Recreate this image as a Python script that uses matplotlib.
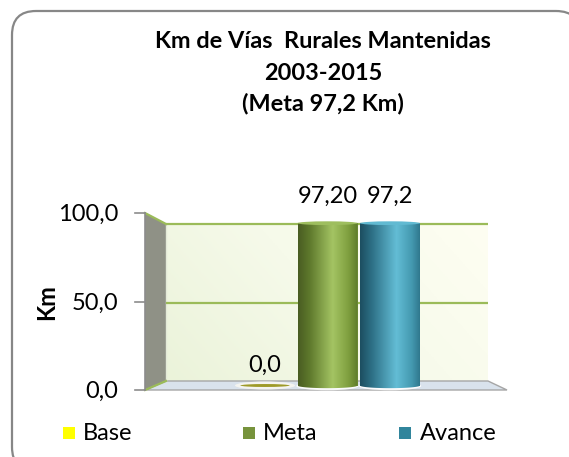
import matplotlib
matplotlib.use("Agg")
import matplotlib.pyplot as plt
import numpy as np
from matplotlib.patches import Polygon, Rectangle, Ellipse, FancyBboxPatch
from matplotlib.colors import LinearSegmentedColormap

# ---------------- data ----------------
series = ["Base", "Meta", "Avance"]
values = [0.0, 97.2, 97.2]
value_labels = ["0,0", "97,20", "97,2"]
yticks = [0, 50, 100]
ytick_labels = ["0,0", "50,0", "100,0"]
title_lines = ["Km de Vías  Rurales Mantenidas", "2003-2015", "(Meta 97,2 Km)"]
ylabel = "Km"
legend_colors = ["#FFFF00", "#77933C", "#31859C"]

# ---------------- style ----------------
W, H = 569, 457
FONT = "Lato"
plt.rcParams["font.family"] = [FONT, "DejaVu Sans"]
FS = 17
grid_col = "#9BBB59"

fig = plt.figure(figsize=(W / 100, H / 100), dpi=100)
deco = fig.add_axes([0, 0, 1, 1])
deco.set_xlim(0, W)
deco.set_ylim(H, 0)
deco.axis("off")

# 3D-ish geometry (t = 0 back plane, t = 1 front plane)
def ypx(v, t):
    return (381 + 9 * t) - v * (1.57 + 0.20 * t)

def xl(t):
    return 166 - 21 * t

def xr(t):
    return 488 + 19 * t

# outer rounded border
deco.add_patch(FancyBboxPatch((12, 11), 568, 460,
                              boxstyle="round,pad=0,rounding_size=24",
                              fc="white", ec="#878787", lw=1.6, zorder=0))

vmax = max(yticks)
# back wall gradient
grad = np.linspace(0, 1, 256)[None, :] * np.ones((64, 1))
grad = grad * 0.7 + np.linspace(0, 0.3, 64)[::-1, None]
wall_cmap = LinearSegmentedColormap.from_list("wall", ["#EBF3DA", "#F6FAEA", "#FEFEF2"])
deco.imshow(grad, cmap=wall_cmap, extent=[xl(0), xr(0), ypx(0, 0), ypx(vmax, 0)],
            aspect="auto", zorder=1, interpolation="bilinear")
deco.set_xlim(0, W)
deco.set_ylim(H, 0)

# left side wall
side = Polygon([(xl(1), ypx(0, 1)), (xl(1), ypx(vmax, 1)), (xl(0), ypx(vmax, 0)), (xl(0), ypx(0, 0))],
               closed=True, fc="#8F9186", ec="none", zorder=2)
deco.add_patch(side)
deco.plot([xl(0), xl(0)], [ypx(0, 0), ypx(vmax, 0)], color="#E4EAD8", lw=1.0, zorder=2.5)

# floor
floor = Polygon([(xl(0), ypx(0, 0)), (xr(0), ypx(0, 0)), (xr(1), ypx(0, 1)), (xl(1), ypx(0, 1))],
                closed=True, fc="#D9E2EC", ec="#A6A6A6", lw=1.0, zorder=2)
deco.add_patch(floor)

# gridlines
for v in yticks:
    if v > 0:
        deco.plot([xl(0), xr(0)], [ypx(v, 0), ypx(v, 0)], color=grid_col, lw=1.6, zorder=3,
                  solid_capstyle="butt")
for v in (0, vmax):
    deco.plot([xl(1), xl(0)], [ypx(v, 1), ypx(v, 0)], color=grid_col, lw=1.6, zorder=3)

# front axis line + ticks + labels
deco.plot([xl(1), xl(1)], [ypx(0, 1), ypx(vmax, 1)], color="#8C8C8C", lw=1.2, zorder=3)
for v, lab in zip(yticks, ytick_labels):
    y = ypx(v, 1)
    deco.plot([xl(1) - 10, xl(1)], [y, y], color="#8C8C8C", lw=1.2, zorder=3)
    deco.text(118, y + 1.5, lab, ha="right", va="center", fontsize=FS, color="#000000", zorder=4)

deco.text(47, 302, ylabel, rotation=90, ha="center", va="center", fontsize=FS,
          fontweight="bold", zorder=4)

# title
for i, line in enumerate(title_lines):
    deco.text(323, 42 + 31 * i, line, ha="center", va="center", fontsize=16.9,
              fontweight="bold", zorder=4)

# legend
leg_x = [(63, 83), (243, 263), (399, 420)]
for (sx, tx), name, col in zip(leg_x, series, legend_colors):
    deco.add_patch(Rectangle((sx, 427), 12, 12, fc=col, ec="none", zorder=4))
    deco.text(tx, 434, name, ha="left", va="center", fontsize=FS, zorder=4)

# ---------------- bars (middle depth plane) ----------------
ax = fig.add_axes([0, 0, 1, 1])
ax.set_facecolor("none")
ax.axis("off")
cx0, dx = 265.0, 62.5          # pixel centre of first bar, pixels per category unit
y0, sy = 385.5, 1.67           # pixel of value 0, pixels per value unit
ax.set_xlim((0 - cx0) / dx, (W - cx0) / dx)
ax.set_ylim((y0 - H) / sy, y0 / sy)

bw = 0.96
cyl_cmaps = [
    LinearSegmentedColormap.from_list("b", ["#8F8A1E", "#D8D24A", "#F4F070", "#B8B235"]),
    LinearSegmentedColormap.from_list("m", [(0, "#495C22"), (0.2, "#5F7A2D"), (0.58, "#A4C463"),
                                            (0.85, "#7E9E3E"), (1, "#5E7B2A")]),
    LinearSegmentedColormap.from_list("a", [(0, "#1C4E60"), (0.2, "#2E7187"), (0.6, "#63BDD5"),
                                            (0.85, "#4499B0"), (1, "#2D7489")]),
]
xs = np.arange(len(series))
bars = ax.bar(xs, values, width=bw, color=legend_colors, zorder=5)
hgt = 3.2
g = np.linspace(0, 1, 256)[None, :]
for i, (b, v) in enumerate(zip(bars, values)):
    x = xs[i]
    if v > 0:
        # floor glow
        ax.add_patch(Ellipse((x, -0.3), bw * 1.04, hgt * 1.6, fc="white", ec="none", alpha=0.9, zorder=4))
        im = ax.imshow(g, cmap=cyl_cmaps[i], extent=[x - bw / 2, x + bw / 2, -hgt, v],
                       aspect="auto", zorder=6, interpolation="bilinear")
        clip = Polygon([(x - bw / 2, v)] + [(x - bw / 2, 0)] +
                       [(x + bw / 2 * np.cos(a), hgt / 2 * np.sin(a)) for a in np.linspace(np.pi, 2 * np.pi, 40)] +
                       [(x + bw / 2, v)], closed=True, transform=ax.transData)
        im.set_clip_path(clip)
        # top cap
        top_col = cyl_cmaps[i](0.62)
        ax.add_patch(Ellipse((x, v), bw, hgt * 0.7, fc=top_col, ec="none", zorder=7))
    else:
        ax.add_patch(Ellipse((x, 0), bw, hgt * 1.5, fc="#F4F4F0", ec="none", zorder=6))
        ax.add_patch(Ellipse((x, 0), bw * 0.82, hgt * 0.55, fc="#9E9A28", ec="none", zorder=7))
    off = 27 if v > 0 else 20
    ax.annotate(value_labels[i], (x, v), xytext=(0, off), textcoords="offset pixels",
                ha="center", va="center", fontsize=FS, zorder=8)

ax.set_xlim((0 - cx0) / dx, (W - cx0) / dx)
ax.set_ylim((y0 - H) / sy, y0 / sy)

fig.savefig("out.png", dpi=100)
